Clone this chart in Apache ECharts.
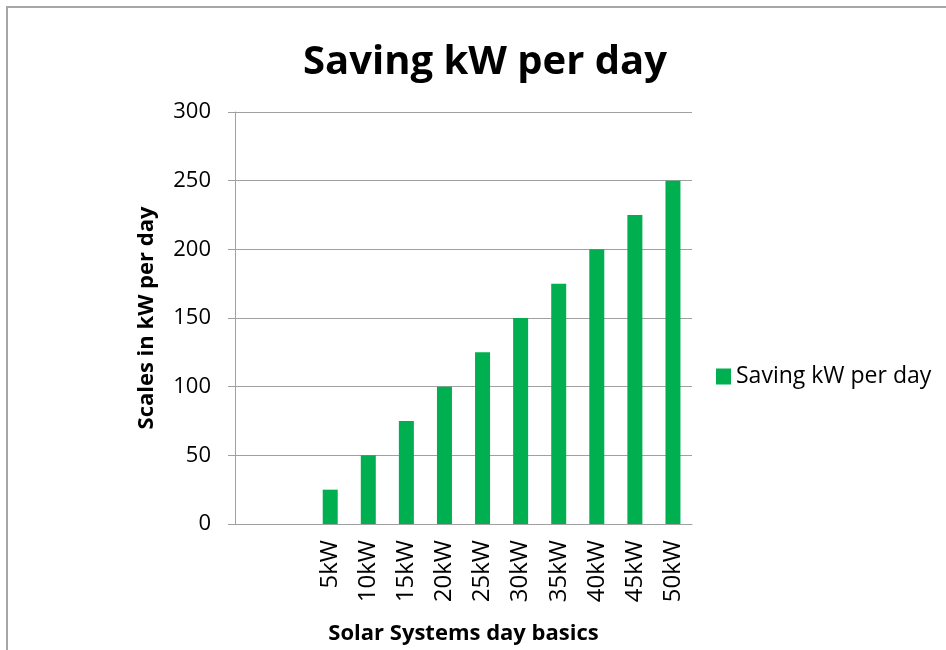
<!DOCTYPE html>
<html><head><meta charset="utf-8">
<script src="https://cdn.jsdelivr.net/npm/echarts@6/dist/echarts.min.js"></script>
<style>html,body{margin:0;padding:0;background:#fff}#c{width:946px;height:650px}</style>
</head><body><div id="c"></div>
<script>
const categories = ['', '', '5kW', '10kW', '15kW', '20kW', '25kW', '30kW', '35kW', '40kW', '45kW', '50kW'];
const savingValues = [null, null, 25, 50, 75, 100, 125, 150, 175, 200, 225, 250];
const seriesName = 'Saving kW per day';
const yTicks = {min: 0, max: 300, interval: 50};

const font = '"Open Sans", "Liberation Sans", sans-serif';
const chart = echarts.init(document.getElementById('c'), null, {renderer: 'canvas'});
chart.setOption({
  animation: false,
  backgroundColor: '#fff',
  graphic: [{
    type: 'polyline', silent: true,
    shape: {points: [[7, 660], [7, 7], [960, 7]]},
    style: {stroke: '#a6a6a6', lineWidth: 2, fill: null}
  }],
  title: {
    text: 'Saving kW per day', left: 480, textAlign: 'center', top: 38,
    textStyle: {fontFamily: font, fontWeight: 'bold', fontSize: 40, color: '#000'}
  },
  legend: {
    left: 711, top: 360, itemWidth: 15, itemHeight: 16, itemGap: 6,
    icon: 'rect',
    textStyle: {fontFamily: font, fontSize: 23, color: '#000'},
    data: [seriesName]
  },
  grid: {left: 235, right: 254, top: 112, bottom: 126, containLabel: false},
  xAxis: {
    type: 'category', data: categories,
    name: 'Solar Systems day basics', nameLocation: 'middle', nameGap: 99,
    nameTextStyle: {fontFamily: font, fontWeight: 'bold', fontSize: 22, color: '#000'},
    axisLine: {lineStyle: {color: '#a0a0a0', width: 1}},
    axisTick: {length: 7, lineStyle: {color: '#a0a0a0'}},
    axisLabel: {rotate: 90, interval: 0, fontFamily: font, fontSize: 24, color: '#000', margin: 16}
  },
  yAxis: {
    type: 'value', min: yTicks.min, max: yTicks.max, interval: yTicks.interval,
    name: 'Scales in kW per day', nameLocation: 'middle', nameGap: 77, nameRotate: 90,
    nameTextStyle: {fontFamily: font, fontWeight: 'bold', fontSize: 22, color: '#000'},
    axisLine: {show: true, lineStyle: {color: '#a0a0a0'}},
    axisTick: {show: true, length: 7, lineStyle: {color: '#a0a0a0'}},
    axisLabel: {fontFamily: font, fontSize: 22, color: '#000', margin: 24},
    splitLine: {lineStyle: {color: '#a0a0a0', width: 1}}
  },
  series: [{
    name: seriesName, type: 'bar', data: savingValues, barWidth: 15,
    itemStyle: {color: '#00b050'}
  }]
});
</script></body></html>
